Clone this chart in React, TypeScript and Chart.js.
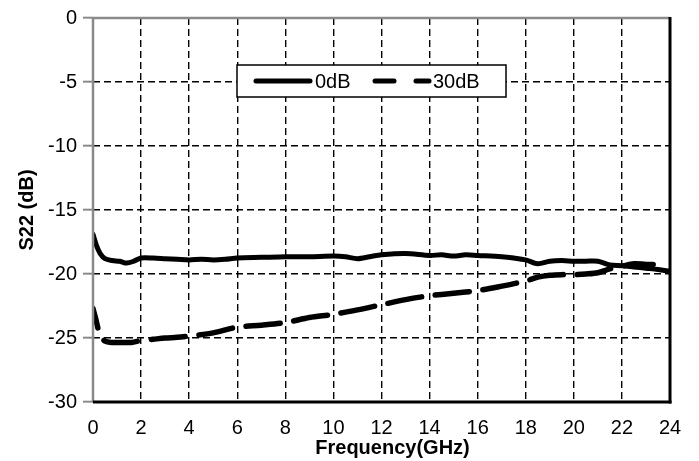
import React, { useEffect, useRef } from "react";
import { Chart, registerables } from "chart.js";

Chart.register(...registerables);

const freq0dB = [0, 0.15, 0.3, 0.5, 0.8, 1.1, 1.4, 1.7, 2, 2.5, 3, 3.5, 4, 4.5, 5, 5.5, 6, 7, 8, 9, 10, 10.5, 11, 11.5, 12, 13, 14, 14.5, 15, 15.5, 16, 17, 17.5, 18, 18.5, 19, 19.5, 20, 20.5, 21, 21.5, 22, 22.5, 23, 23.5, 24];
const s22_0dB = [-16.9, -17.8, -18.4, -18.8, -18.95, -19.0, -19.15, -19.0, -18.75, -18.75, -18.8, -18.85, -18.9, -18.85, -18.9, -18.85, -18.75, -18.7, -18.65, -18.65, -18.6, -18.65, -18.8, -18.65, -18.5, -18.4, -18.55, -18.5, -18.6, -18.5, -18.55, -18.65, -18.75, -18.9, -19.2, -19.0, -18.95, -19.0, -19.0, -19.0, -19.3, -19.35, -19.45, -19.55, -19.65, -19.8];

const freq30dB = [0, 0.1, 0.2, 0.3, 0.5, 0.8, 1.2, 1.6, 2, 2.5, 3, 3.5, 4, 5, 6, 7, 8, 9, 10, 11, 12, 13, 14, 15, 16, 17, 18, 18.5, 19, 19.5, 20, 20.5, 21, 21.5, 22, 22.5, 23, 23.3];
const s22_30dB = [-22.7, -23.4, -24.2, -24.8, -25.25, -25.35, -25.35, -25.35, -25.2, -25.1, -25.0, -24.95, -24.85, -24.6, -24.15, -24.0, -23.8, -23.4, -23.15, -22.8, -22.4, -22.0, -21.7, -21.5, -21.3, -20.95, -20.55, -20.25, -20.1, -20.05, -20.05, -20.0, -19.9, -19.6, -19.4, -19.2, -19.25, -19.25];

const seriesLabels = ["0dB", "30dB"];
const xTitle = "Frequency(GHz)";
const yTitle = "S22 (dB)";

const FONT = "'Liberation Sans', Arial, sans-serif";

const framePlugin = {
  id: "frameAndLegend",
  afterDatasetsDraw(chart: any) {
    const { ctx, chartArea } = chart;
    const { left, right, top, bottom } = chartArea;
    ctx.save();
    ctx.setLineDash([]);
    ctx.strokeStyle = "#8a8a8a";
    ctx.lineWidth = 2.5;
    ctx.beginPath();
    ctx.moveTo(left, top);
    ctx.lineTo(right, top);
    ctx.stroke();
    ctx.beginPath();
    ctx.moveTo(left, top);
    ctx.lineTo(left, bottom);
    ctx.stroke();
    ctx.strokeStyle = "#000";
    ctx.lineWidth = 3;
    ctx.beginPath();
    ctx.moveTo(right, top - 1);
    ctx.lineTo(right, bottom + 1.5);
    ctx.stroke();
    ctx.beginPath();
    ctx.moveTo(left, bottom);
    ctx.lineTo(right + 1.5, bottom);
    ctx.stroke();

    // x-axis title (slightly right of plot centre, as in the reference)
    ctx.fillStyle = "#000";
    ctx.font = `bold 20px ${FONT}`;
    ctx.textAlign = "center";
    ctx.textBaseline = "middle";
    ctx.fillText(xTitle, (left + right) / 2 + 11, 448);

    // legend box
    const bx = 237, by = 65, bw = 269, bh = 32;
    ctx.fillStyle = "#fff";
    ctx.fillRect(bx, by, bw, bh);
    ctx.strokeStyle = "#000";
    ctx.lineWidth = 1.5;
    ctx.strokeRect(bx, by, bw, bh);
    const cy = by + bh / 2;
    ctx.lineWidth = 5;
    ctx.lineCap = "round";
    ctx.beginPath();
    ctx.moveTo(256, cy);
    ctx.lineTo(310, cy);
    ctx.stroke();
    ctx.beginPath();
    ctx.moveTo(375, cy);
    ctx.lineTo(394, cy);
    ctx.stroke();
    ctx.beginPath();
    ctx.moveTo(416, cy);
    ctx.lineTo(429, cy);
    ctx.stroke();
    ctx.fillStyle = "#000";
    ctx.font = `20px ${FONT}`;
    ctx.textBaseline = "middle";
    ctx.textAlign = "left";
    ctx.fillText(seriesLabels[0], 315, cy + 1);
    ctx.fillText(seriesLabels[1], 433, cy + 1);
    ctx.restore();
  },
};

export default function App() {
  const ref = useRef<HTMLCanvasElement | null>(null);
  useEffect(() => {
    if (!ref.current) return;
    const chart = new Chart(ref.current, {
      type: "line",
      data: {
        datasets: [
          {
            label: seriesLabels[0],
            data: freq0dB.map((f, i) => ({ x: f, y: s22_0dB[i] })),
            borderColor: "#000",
            borderWidth: 5,
            pointRadius: 0,
            tension: 0.3,
            borderCapStyle: "round",
            borderJoinStyle: "round",
          },
          {
            label: seriesLabels[1],
            data: freq30dB.map((f, i) => ({ x: f, y: s22_30dB[i] })),
            borderColor: "#000",
            borderWidth: 5.5,
            borderDash: [34, 14],
            borderDashOffset: 14,
            pointRadius: 0,
            tension: 0.3,
            borderCapStyle: "round",
            borderJoinStyle: "round",
          },
        ],
      },
      options: {
        animation: false,
        responsive: true,
        maintainAspectRatio: false,
        layout: { padding: { top: 16, right: 29, left: 0, bottom: 0 } },
        plugins: {
          legend: { display: false },
          tooltip: { enabled: false },
        },
        scales: {
          x: {
            type: "linear",
            min: 0,
            max: 24,
            afterFit: (s: any) => {
              s.height = 59;
            },
            ticks: {
              stepSize: 2,
              color: "#000",
              font: { family: FONT, size: 20 },
              padding: 14,
              maxRotation: 0,
            },
            grid: {
              color: "#000",
              lineWidth: 1.4,
              drawTicks: false,
            },
            border: { display: false, dash: [7, 4] },
            title: { display: false, text: xTitle },
          },
          y: {
            min: -30,
            max: 0,
            afterFit: (s: any) => {
              s.width = 93;
            },
            ticks: {
              stepSize: 5,
              color: "#000",
              font: { family: FONT, size: 20 },
              padding: 6,
            },
            grid: {
              color: "#000",
              lineWidth: 1.4,
              tickLength: 10,
              tickColor: "#8a8a8a",
              tickWidth: 2,
              tickBorderDash: [],
            },
            border: { display: false, dash: [7, 4] },
            title: {
              display: true,
              text: yTitle,
              color: "#000",
              font: { family: FONT, size: 20, weight: "bold" },
              padding: { top: 15, bottom: 0 },
            },
          },
        },
      },
      plugins: [framePlugin],
    });
    return () => chart.destroy();
  }, []);
  return (
    <div style={{ position: "fixed", left: 0, top: 0, width: 699, height: 461, background: "#fff" }}>
      <canvas ref={ref} />
    </div>
  );
}
